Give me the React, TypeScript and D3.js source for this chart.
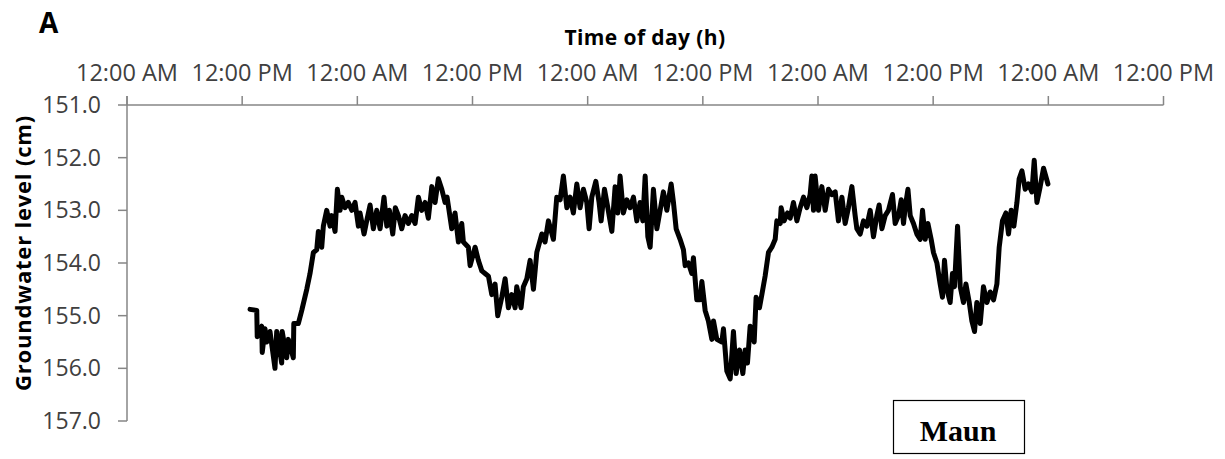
import React from "react";
import * as d3 from "d3";

const hours: number[] = [
  12.82, 13.52, 13.57, 14.04, 14.09, 14.38, 14.56, 14.9, 15.42, 15.6, 16.12, 16.17, 16.64, 16.81, 17.33, 17.38, 17.85, 18.21, 18.73, 19.07,
  19.42, 19.77, 19.94, 20.29, 20.46, 20.81, 21.16, 21.33, 21.68, 21.92, 22.2, 22.38, 22.72, 23.06, 23.42, 23.76, 24.11, 24.28, 24.7, 24.98,
  25.33, 25.67, 26.02, 26.37, 26.78, 27.07, 27.34, 27.69, 27.96, 28.28, 28.63, 28.97, 29.32, 29.67, 30.02, 30.36, 30.71, 31.06, 31.4, 31.76,
  32.1, 32.44, 32.8, 33.14, 33.35, 33.84, 34.18, 34.53, 34.88, 35.05, 35.57, 35.75, 36.27, 36.61, 36.97, 37.31, 37.66, 38.01, 38.35, 38.63,
  39.05, 39.4, 39.74, 40.09, 40.44, 40.61, 41.06, 41.3, 41.66, 42.0, 42.35, 42.7, 43.22, 43.56, 43.91, 44.43, 44.78, 45.13, 45.47, 45.83,
  46.17, 46.51, 46.87, 47.21, 47.56, 47.91, 48.15, 48.43, 48.85, 49.19, 49.4, 49.75, 50.1, 50.52, 50.86, 51.14, 51.38, 51.72, 52.08, 52.42,
  52.77, 53.12, 53.46, 53.75, 53.99, 54.27, 54.51, 54.85, 55.21, 55.55, 55.89, 56.25, 56.7, 56.94, 57.22, 57.63, 57.98, 58.16, 58.5, 58.85,
  59.02, 59.37, 59.72, 59.9, 60.24, 60.58, 60.94, 61.11, 61.46, 61.98, 62.15, 62.5, 62.85, 63.19, 63.47, 63.82, 64.17, 64.41, 64.65, 64.93,
  65.35, 65.55, 65.9, 66.15, 66.49, 66.84, 67.19, 67.54, 67.71, 68.06, 68.16, 68.47, 68.82, 69.1, 69.44, 69.8, 70.14, 70.49, 70.84, 71.18,
  71.36, 71.53, 71.7, 72.05, 72.4, 72.75, 73.09, 73.44, 73.79, 74.13, 74.49, 74.83, 75.17, 75.53, 75.87, 76.05, 76.39, 76.74, 77.09, 77.44,
  77.78, 78.13, 78.37, 78.66, 79.0, 79.34, 79.76, 80.04, 80.39, 80.67, 80.91, 81.08, 81.37, 81.61, 81.95, 82.3, 82.65, 82.89, 83.17, 83.45,
  83.79, 84.03, 84.39, 84.73, 84.97, 85.18, 85.43, 85.77, 86.01, 86.22, 86.54, 86.82, 87.16, 87.41, 87.76, 88.03, 88.31, 88.55, 88.9, 89.24,
  89.6, 89.94, 90.29, 90.64, 90.88, 91.22, 91.58, 91.85, 92.13, 92.41, 92.73, 92.96, 93.25, 93.59, 93.93, 94.29, 94.53, 94.81, 95.15, 95.5,
  95.96,
];

const levels: number[] = [
  154.88, 154.9, 155.4, 155.2, 155.7, 155.25, 155.5, 155.3, 156.0, 155.3, 155.9, 155.3, 155.8, 155.45, 155.8, 155.15, 155.15, 154.9, 154.5, 154.2,
  153.8, 153.75, 153.4, 153.7, 153.3, 153.0, 153.3, 153.1, 153.4, 152.6, 153.0, 152.75, 152.95, 152.85, 153.0, 152.85, 153.3, 153.05, 153.45, 153.2,
  152.9, 153.35, 153.0, 153.35, 152.75, 153.3, 153.0, 153.45, 152.95, 153.1, 153.35, 153.1, 153.25, 153.1, 153.25, 152.75, 153.0, 152.85, 153.15, 152.55,
  152.85, 152.4, 152.6, 152.85, 152.75, 153.35, 153.05, 153.6, 153.25, 153.6, 153.7, 154.05, 153.7, 153.95, 154.15, 154.2, 154.25, 154.6, 154.4, 155.0,
  154.65, 154.3, 154.85, 154.6, 154.85, 154.45, 154.85, 154.45, 154.3, 153.95, 154.5, 153.8, 153.45, 153.6, 153.2, 153.55, 152.75, 152.8, 152.35, 152.95,
  152.75, 153.05, 152.5, 152.95, 152.6, 152.85, 153.35, 152.75, 152.45, 152.85, 153.2, 152.6, 152.95, 153.4, 152.55, 153.05, 152.35, 153.05, 152.8, 152.95,
  152.75, 153.2, 152.85, 153.2, 152.35, 153.5, 153.7, 152.6, 153.35, 153.0, 152.65, 153.0, 152.5, 152.85, 153.35, 153.55, 153.75, 154.05, 154.0, 154.2,
  153.9, 154.7, 154.7, 154.35, 154.9, 155.1, 155.45, 155.1, 155.45, 155.5, 155.25, 156.05, 156.2, 155.3, 156.1, 155.65, 156.1, 155.65, 155.9, 155.2,
  155.5, 154.65, 154.85, 154.6, 154.25, 153.8, 153.7, 153.55, 153.2, 153.25, 152.95, 153.2, 153.05, 153.15, 152.85, 153.2, 152.95, 152.75, 152.95, 152.7,
  152.35, 153.0, 152.35, 153.0, 152.55, 153.0, 152.6, 152.7, 152.65, 153.2, 152.75, 153.25, 152.95, 152.55, 153.1, 153.35, 153.45, 153.2, 153.3, 153.0,
  153.5, 153.1, 152.9, 153.35, 153.1, 153.0, 152.7, 153.25, 153.1, 152.8, 153.25, 152.95, 152.6, 153.1, 153.25, 153.45, 153.55, 153.0, 153.55, 153.25,
  153.55, 153.8, 154.0, 154.4, 154.65, 153.95, 154.5, 154.75, 154.2, 154.45, 153.3, 154.45, 154.75, 154.4, 154.75, 155.1, 155.3, 154.75, 155.15, 154.45,
  154.75, 154.55, 154.7, 154.4, 153.7, 153.2, 153.05, 153.45, 153.0, 153.3, 152.85, 152.4, 152.25, 152.6, 152.5, 152.65, 152.05, 152.85, 152.55, 152.2,
  152.5,
];

const xTickHours: number[] = [0, 12, 24, 36, 48, 60, 72, 84, 96, 108];
const xTickLabels: string[] = [
  "12:00 AM", "12:00 PM", "12:00 AM", "12:00 PM", "12:00 AM",
  "12:00 PM", "12:00 AM", "12:00 PM", "12:00 AM", "12:00 PM",
];
const yTicks: number[] = [151, 152, 153, 154, 155, 156, 157];

const W = 1225;
const H = 459;
const left = 127;
const right = 1163.5;
const top = 105;
const bottom = 421;

export default function App() {
  const x = d3.scaleLinear().domain([0, 108]).range([left, right]);
  const y = d3.scaleLinear().domain([151, 157]).range([top, bottom]);
  const pts = hours.map((h, i) => [h, levels[i]] as [number, number]);
  const line = d3
    .line<[number, number]>()
    .x((d) => x(d[0]))
    .y((d) => y(d[1]));
  const axisColor = "#868686";
  const textColor = "#404040";
  const font = "'Open Sans', sans-serif";

  return (
    <svg
      width={W}
      height={H}
      style={{ position: "absolute", left: 0, top: 0, background: "#fff" }}
    >
      <rect x={0} y={0} width={W} height={H} fill="#fff" />
      <text x={39} y={33} fontFamily={font} fontWeight={700} fontSize={28} fill="#000">
        A
      </text>
      <text
        x={645}
        y={45}
        textAnchor="middle"
        fontFamily={font}
        fontWeight={700}
        fontSize={21}
        letterSpacing={0.4}
        fill="#000"
      >
        Time of day (h)
      </text>
      {/* x axis on top */}
      <line x1={left} x2={right} y1={top} y2={top} stroke={axisColor} strokeWidth={1.5} />
      {xTickHours.map((h, i) => (
        <g key={"xt" + i}>
          <line x1={x(h)} x2={x(h)} y1={top - 9} y2={top} stroke={axisColor} strokeWidth={1.5} />
          <text
            x={x(h)}
            y={81}
            textAnchor="middle"
            fontFamily={font}
            fontSize={23.5}
            fill={textColor}
          >
            {xTickLabels[i]}
          </text>
        </g>
      ))}
      {/* y axis */}
      <line x1={left} x2={left} y1={top - 9} y2={bottom} stroke={axisColor} strokeWidth={1.5} />
      {yTicks.map((t) => (
        <g key={"yt" + t}>
          <line x1={left - 9} x2={left} y1={y(t)} y2={y(t)} stroke={axisColor} strokeWidth={1.5} />
          <text
            x={101}
            y={y(t) + 8}
            textAnchor="end"
            fontFamily={font}
            fontSize={23}
            fill={textColor}
          >
            {t.toFixed(1)}
          </text>
        </g>
      ))}
      <text
        transform={`translate(31, 253) rotate(-90)`}
        textAnchor="middle"
        fontFamily={font}
        fontWeight={700}
        fontSize={22}
        letterSpacing={0.8}
        fill="#000"
      >
        Groundwater level (cm)
      </text>
      <path
        d={line(pts) || ""}
        fill="none"
        stroke="#000"
        strokeWidth={5}
        strokeLinejoin="round"
        strokeLinecap="round"
      />
      <rect x={893.5} y={400.5} width={131} height={53} fill="#fff" stroke="#000" strokeWidth={1.2} />
      <text
        x={958}
        y={441}
        textAnchor="middle"
        fontFamily="'Liberation Serif', 'Times New Roman', serif"
        fontWeight={700}
        fontSize={30}
        fill="#000"
      >
        Maun
      </text>
    </svg>
  );
}
